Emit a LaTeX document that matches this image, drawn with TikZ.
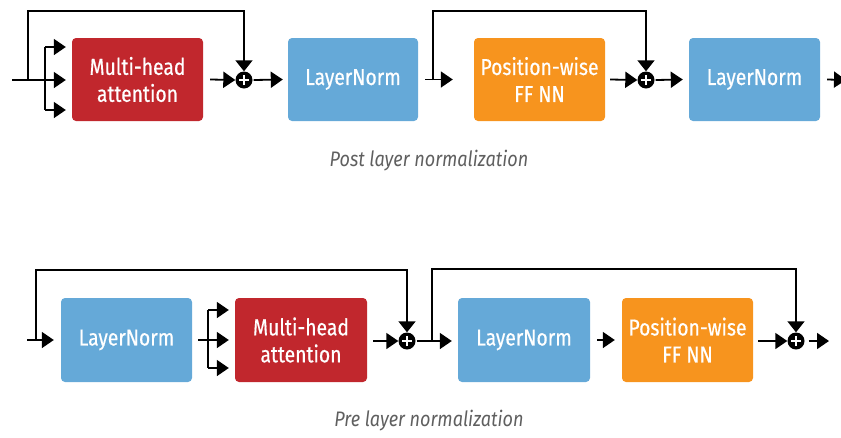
\documentclass[tikz,border=0pt]{standalone}
\usepackage{fontspec}
\setmainfont{Fira Sans}
\newfontfamily\boxfont[FakeStretch=0.84,FakeBold=0.5]{Fira Sans}
\newfontfamily\capfont[FakeStretch=0.86]{Fira Sans}
\usetikzlibrary{arrows.meta}
\definecolor{mhared}{HTML}{C1272D}
\definecolor{lnblue}{HTML}{65A9D8}
\definecolor{fforange}{HTML}{F7941E}
\definecolor{capgray}{HTML}{5F5F5F}
\tikzset{
  blk/.style={rounded corners=4pt, draw=none, text=white, align=center,
    font=\boxfont\fontsize{23}{27}\selectfont, inner sep=0pt},
  mha/.style={blk, fill=mhared},
  lnorm/.style={blk, fill=lnblue},
  ffnn/.style={blk, fill=fforange},
  addop/.style={circle, fill=black, minimum size=17pt, inner sep=0pt,
    path picture={\draw[white, line width=2.4pt] ([xshift=-5pt]path picture bounding box.center) -- ([xshift=5pt]path picture bounding box.center);
                  \draw[white, line width=2.4pt] ([yshift=-5pt]path picture bounding box.center) -- ([yshift=5pt]path picture bounding box.center);}},
  arr/.style={line width=1.8pt, -{Triangle[length=12pt,width=16pt]}},
  ln/.style={line width=1.8pt},
  skip/.style={line width=1.6pt, -{Triangle[length=11pt,width=17pt]}},
  captext/.style={text=capgray, font=\capfont\itshape\fontsize{21}{24}\selectfont}
}
\begin{document}
\begin{tikzpicture}[x=1pt, y=-1pt]
\useasboundingbox (0,0) rectangle (841,437);
% ---------- Post layer normalization ----------
\node[mha, minimum width=131pt, minimum height=83pt] (m1) at (137.5,79.5) {Multi-head\\attention};
\node[lnorm, minimum width=130pt, minimum height=83pt] (l1) at (353,79.5) {LayerNorm};
\node[ffnn, minimum width=131pt, minimum height=83pt] (f1) at (539.5,79.5) {Position-wise\\FF NN};
\node[lnorm, minimum width=131pt, minimum height=83pt] (l2) at (754.5,79.5) {LayerNorm};
\node[addop] (p1) at (244,80) {};
\node[addop] (p2) at (646,80) {};
\coordinate (in1) at (12,80);
\coordinate (br1) at (45,80);
\coordinate (sk1) at (28,80);
\coordinate (sk2) at (433,80);
\coordinate (out1) at (846,80);

\draw[ln] (in1) -- (br1);
\draw[ln] (45,47) -- (45,110);
\draw[arr] (45,47) -- ([xshift=-6pt]m1.west |- 0,47);
\draw[arr] (br1) -- ([xshift=-6pt]m1.west |- 0,80);
\draw[arr] (45,110) -- ([xshift=-6pt]m1.west |- 0,110);
\draw[skip] (sk1) -- (28,11) -| (p1.north);
\draw[arr] (m1.east) ++(7,0) -- (p1.west);
\draw[arr] (p1.east) ++(1,0) -- ([xshift=-5pt]l1.west);
\draw[arr] (l1.east) ++(7,0) -- ([xshift=-21pt]f1.west);
\draw[skip] (sk2) -- (433,11) -| (p2.north);
\draw[arr] (f1.east) ++(5,0) -- (p2.west);
\draw[arr] (p2.east) ++(1,0) -- ([xshift=-6pt]l2.west);
\draw[arr] (l2.east) ++(7,0) -- (out1);
\node[captext] (c1) at (429,161) {Post layer normalization};

% ---------- Pre layer normalization ----------
\node[lnorm, minimum width=131pt, minimum height=84pt] (l3) at (126.5,340) {LayerNorm};
\node[mha, minimum width=132pt, minimum height=84pt] (m2) at (301,340) {Multi-head\\attention};
\node[lnorm, minimum width=132pt, minimum height=84pt] (l4) at (524,340) {LayerNorm};
\node[ffnn, minimum width=131pt, minimum height=84pt] (f2) at (687.5,340) {Position-wise\\FF NN};
\node[addop] (p3) at (407,341) {};
\node[addop] (p4) at (796,341) {};
\coordinate (in2) at (27,340);
\coordinate (sk3) at (36,340);
\coordinate (br2) at (208,340);
\coordinate (sk4) at (432,341);
\coordinate (out2) at (829,341);

\draw[arr] (in2) -- ([xshift=-7pt]l3.west);
\draw[skip] (sk3) -- (36,270) -| (p3.north);
\draw[ln] (l3.east) ++(6,0) -- (br2);
\draw[ln] (208,310) -- (208,368);
\draw[arr] (208,310) -- ([xshift=-6pt]m2.west |- 0,310);
\draw[arr] (br2) -- ([xshift=-6pt]m2.west |- 0,340);
\draw[arr] (208,368) -- ([xshift=-6pt]m2.west |- 0,368);
\draw[arr] (m2.east) ++(6,1) -- (p3.west);
\draw[arr] (p3.east) ++(1,0) -- ([xshift=-6pt]l4.west |- 0,341);
\draw[skip] (sk4) -- (432,269) -| (p4.north);
\draw[arr] (l4.east) ++(7,0) -- ([xshift=-7pt]f2.west);
\draw[arr] (f2.east) ++(5,1) -- (p4.west);
\draw[arr] (p4.east) ++(4,0) -- (out2);
\node[captext] (c2) at (429,421) {Pre layer normalization};
\end{tikzpicture}
\end{document}
